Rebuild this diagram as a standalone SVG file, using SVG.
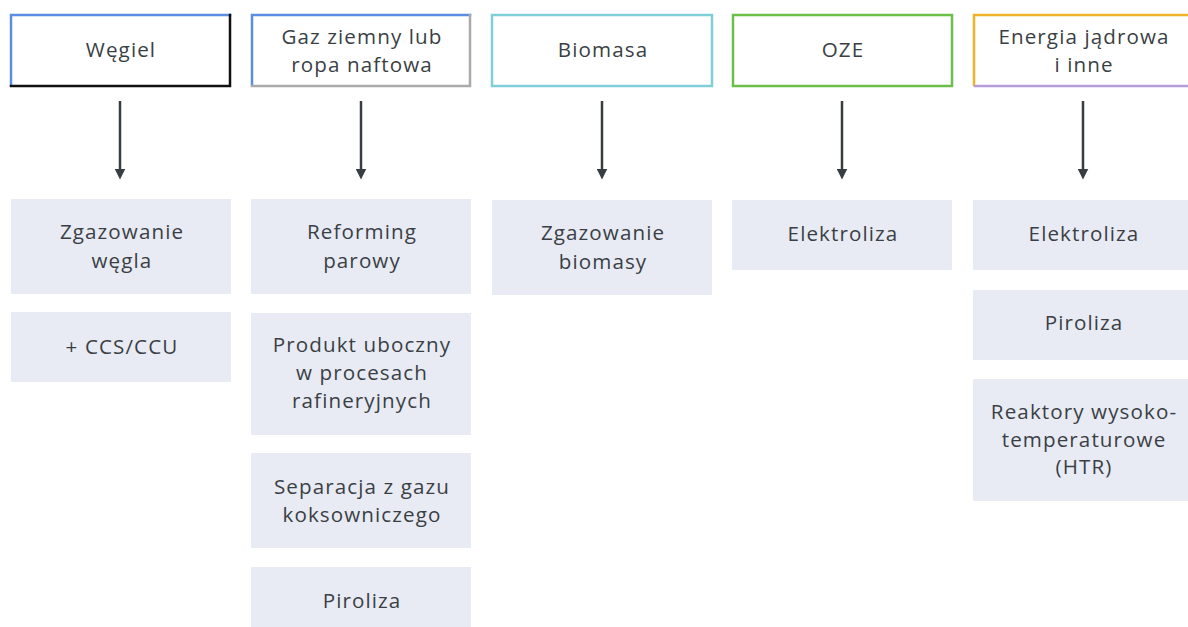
<svg xmlns="http://www.w3.org/2000/svg" width="1188" height="627" viewBox="0 0 1188 627">
<style>
.t{font-family:"Open Sans","Lato",sans-serif;font-size:20.6px;letter-spacing:1.1px;fill:#3a3f45;text-anchor:middle}
.h{fill:#fff}
.b{fill:#e8ebf3}
.e{stroke-width:2.5;fill:none;stroke-linecap:square}
.c{stroke:#383d42;stroke-width:2.5;fill:none}
</style>
<defs>
<marker id="ah" viewBox="0 0 10 10" refX="5" refY="5" markerWidth="4.4" markerHeight="4.4" markerUnits="strokeWidth" orient="auto">
<path d="M0,0 L10,5 L0,10 z" fill="#383d42"/>
</marker>
</defs>
<rect width="1188" height="627" fill="#fff"/>
<g id="h-wegiel">
<rect class="h" x="10" y="15" width="220" height="71"/>
<path class="e" stroke="#5b8ee0" d="M11,85 V15 H230"/>
<path class="e" stroke="#111" d="M230,15 V86 H11"/>
<text class="t" x="121" y="57">Węgiel</text>
</g>
<g id="h-gaz">
<rect class="h" x="251" y="15" width="220" height="71"/>
<path class="e" stroke="#5b8ee0" d="M252,85 V15 H470"/>
<path class="e" stroke="#aaaaaa" d="M470,15 V86 H252"/>
<text class="t" x="362" y="44">Gaz ziemny lub</text>
<text class="t" x="362" y="72">ropa naftowa</text>
</g>
<g id="h-biomasa">
<rect class="h" x="492" y="15" width="220" height="71" stroke="#7fcfd8" stroke-width="2.5"/>
<text class="t" x="603" y="57">Biomasa</text>
</g>
<g id="h-oze">
<rect class="h" x="733" y="15" width="219" height="71" stroke="#6cc04a" stroke-width="2.5"/>
<text class="t" x="843" y="57">OZE</text>
</g>
<g id="h-energia">
<rect class="h" x="974" y="15" width="220" height="71"/>
<path class="e" stroke="#f0b429" d="M974,85 V15 H1192"/>
<path class="e" stroke="#b39ddb" d="M975,86 H1192"/>
<text class="t" x="1084" y="44">Energia jądrowa</text>
<text class="t" x="1084" y="72">i inne</text>
</g>
<g id="connectors">
<line class="c" x1="120" y1="101" x2="120" y2="174" marker-end="url(#ah)"/>
<line class="c" x1="361" y1="101" x2="361" y2="174" marker-end="url(#ah)"/>
<line class="c" x1="602" y1="101" x2="602" y2="174" marker-end="url(#ah)"/>
<line class="c" x1="842" y1="101" x2="842" y2="174" marker-end="url(#ah)"/>
<line class="c" x1="1083" y1="101" x2="1083" y2="174" marker-end="url(#ah)"/>
</g>
<g id="n-zgazowanie-wegla">
<rect class="b" x="11" y="199" width="220" height="95"/>
<text class="t" x="122" y="239">Zgazowanie</text>
<text class="t" x="122" y="268">węgla</text>
</g>
<g id="n-ccs">
<rect class="b" x="11" y="312" width="220" height="70"/>
<text class="t" x="122" y="354">+ CCS/CCU</text>
</g>
<g id="n-reforming">
<rect class="b" x="251" y="199" width="220" height="95"/>
<text class="t" x="362" y="239">Reforming</text>
<text class="t" x="362" y="268">parowy</text>
</g>
<g id="n-produkt">
<rect class="b" x="251" y="313" width="220" height="122"/>
<text class="t" x="362" y="352">Produkt uboczny</text>
<text class="t" x="362" y="380">w procesach</text>
<text class="t" x="362" y="408">rafineryjnych</text>
</g>
<g id="n-separacja">
<rect class="b" x="251" y="453" width="220" height="95"/>
<text class="t" x="362" y="494">Separacja z gazu</text>
<text class="t" x="362" y="522">koksowniczego</text>
</g>
<g id="n-piroliza-1">
<rect class="b" x="251" y="567" width="220" height="60"/>
<text class="t" x="362" y="608">Piroliza</text>
</g>
<g id="n-zgazowanie-biomasy">
<rect class="b" x="492" y="200" width="220" height="95"/>
<text class="t" x="603" y="240">Zgazowanie</text>
<text class="t" x="603" y="269">biomasy</text>
</g>
<g id="n-elektroliza-1">
<rect class="b" x="732" y="200" width="220" height="70"/>
<text class="t" x="843" y="241">Elektroliza</text>
</g>
<g id="n-elektroliza-2">
<rect class="b" x="973" y="200" width="215" height="70"/>
<text class="t" x="1084" y="241">Elektroliza</text>
</g>
<g id="n-piroliza-2">
<rect class="b" x="973" y="290" width="215" height="70"/>
<text class="t" x="1084" y="330">Piroliza</text>
</g>
<g id="n-reaktory">
<rect class="b" x="973" y="379" width="215" height="122"/>
<text class="t" x="1084" y="419">Reaktory wysoko-</text>
<text class="t" x="1084" y="447">temperaturowe</text>
<text class="t" x="1084" y="474">(HTR)</text>
</g>
</svg>
